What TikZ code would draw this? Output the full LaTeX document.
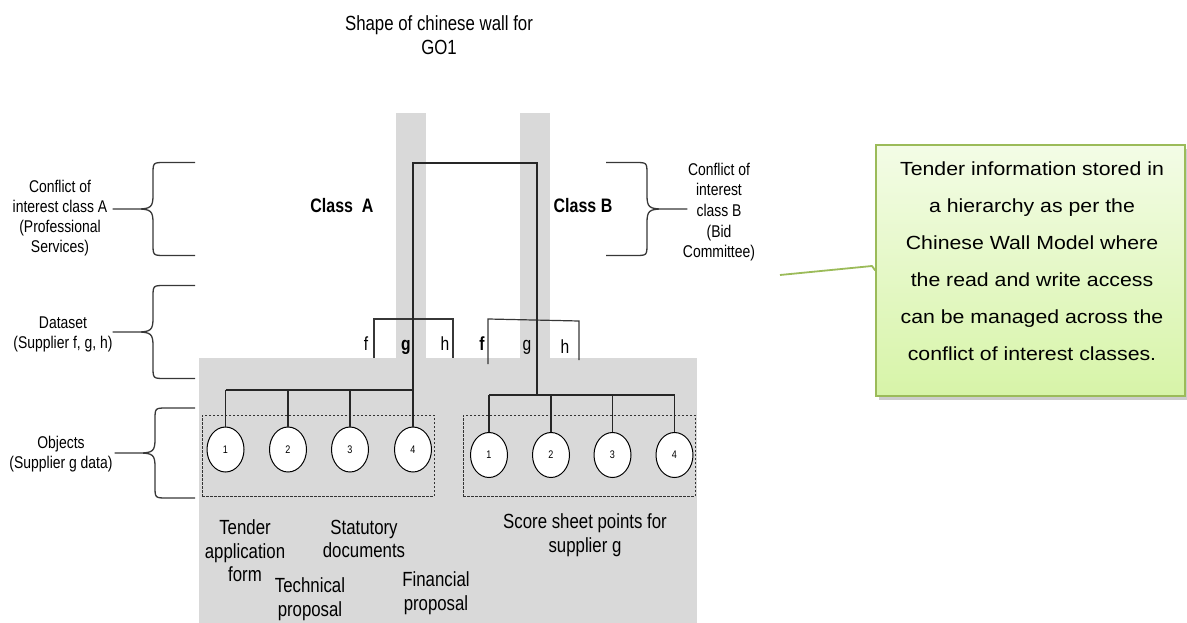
\documentclass[tikz,border=0pt]{standalone}
\usepackage{fontspec}
\setmainfont{Liberation Sans}
\newfontfamily\narrowsf{Liberation Sans}[FakeStretch=0.82]
\newfontfamily\widesf{Liberation Sans}[FakeStretch=1.12]
\usetikzlibrary{shapes.geometric,shadows}

\definecolor{wallgray}{RGB}{217,217,217}
\definecolor{notegreen}{RGB}{155,187,89}
\definecolor{notetop}{RGB}{243,252,230}
\definecolor{notebot}{RGB}{215,244,168}
\definecolor{inkgray}{RGB}{55,55,55}

% curly brace: tip x, tip y, half height, arm length, direction (1 = opens right)
\newcommand{\curlybrace}[5]{%
  \begin{scope}[shift={(#1,#2)},xscale=#5]
    \draw[bracepen] (#4,-#3) -- (52,-#3) .. controls (40,-#3) .. (40,-#3+12)
      -- (40,-14) .. controls (40,-2) and (38,0) .. (24,0) -- (0,0)
      -- (24,0) .. controls (38,0) and (40,2) .. (40,14)
      -- (40,#3-12) .. controls (40,#3) .. (52,#3) -- (#4,#3);
  \end{scope}}

\tikzset{
  bracepen/.style={draw=inkgray, line width=1.3pt, line join=round},
  treeline/.style={draw=black!85, line width=1.2pt},
  setline/.style={draw=inkgray, line width=1.2pt},
  sidelabel/.style={align=center, inner sep=0pt, font=\narrowsf\fontsize{17}{20}\selectfont},
  doclabel/.style={align=center, inner sep=0pt, font=\narrowsf\fontsize{20.5}{23.5}\selectfont},
  classlabel/.style={inner sep=0pt, font=\narrowsf\bfseries\fontsize{19.5}{23}\selectfont},
  setletter/.style={inner sep=0pt, anchor=base, font=\narrowsf\fontsize{19}{22}\selectfont},
  objnode/.style={ellipse, draw=black, line width=1pt, fill=white, minimum width=37,
    minimum height=45, inner sep=0pt, font=\narrowsf\fontsize{11}{13}\selectfont},
  groupbox/.style={draw=black!80, line width=0.9pt, dash pattern=on 2.5pt off 1.5pt,
    inner sep=0pt},
  notebox/.style={draw=notegreen, line width=1.5pt, top color=notetop, bottom color=notebot,
    drop shadow={shadow xshift=3pt, shadow yshift=-4pt, fill=black!40, opacity=0.5}},
  notetext/.style={align=center, inner sep=0pt, font=\widesf\fontsize{19}{37}\selectfont}
}

\begin{document}
\begin{tikzpicture}[x=1pt, y=-1pt]
\useasboundingbox (0,0) rectangle (1187,623);

% the wall: two pillars and the base block
\fill[wallgray] (396,113) rectangle (426,358);
\fill[wallgray] (520,113) rectangle (550,358);
\fill[wallgray] (199,358) rectangle (697,623);

% title
\node[doclabel, font=\narrowsf\fontsize{20.5}{24}\selectfont] (title) at (439,35.5)
  {Shape of chinese wall for\\GO1};

% conflict of interest classes
\node[classlabel] (classA) at (342,206) {Class~~A};
\node[classlabel] (classB) at (583,206) {Class B};

% datasets (suppliers f, g, h)
\draw[setline] (374,358) -- (374,319) -- (453,319) -- (453,358);
\draw[setline] (488,364) -- (488,319) -- (579,321) -- (579,360);
\node[setletter] (fA) at (366,350) {f};
\node[setletter, font=\narrowsf\bfseries\fontsize{19}{22}\selectfont] (gA) at (406,350) {g};
\node[setletter] (hA) at (445,350) {h};
\node[setletter, font=\narrowsf\bfseries\fontsize{19}{22}\selectfont] (fB) at (482,350) {f};
\node[setletter] (gB) at (527,350) {g};
\node[setletter] (hB) at (565,353) {h};

% object groups
\node[groupbox, minimum width=232, minimum height=81] (grpA) at (318,455.5) {};
\node[groupbox, minimum width=232, minimum height=81] (grpB) at (579,455.5) {};

\node[objnode] (a1) at (225.5,449.5) {1};
\node[objnode] (a2) at (288,449.5) {2};
\node[objnode] (a3) at (350,449.5) {3};
\node[objnode] (a4) at (413,449.5) {4};
\node[objnode] (b1) at (489,455) {1};
\node[objnode] (b2) at (551,455) {2};
\node[objnode] (b3) at (612.5,455) {3};
\node[objnode] (b4) at (674.5,455) {4};

% hierarchy connectors
\coordinate (topA) at (413,163);
\coordinate (topB) at (537,163);
\coordinate (busA) at (413,390);
\coordinate (busB) at (537,395);
\draw[treeline] (busA) -- (topA) -- (topB) -- (busB);
\draw[treeline] (a1.north |- busA) -- (a4.north |- busA);
\draw[treeline] (b1.north |- busB) -- (b4.north |- busB);
\foreach \i in {1,...,4} {
  \draw[treeline] (a\i.north |- busA) -- (a\i.north);
  \draw[treeline] (b\i.north |- busB) -- (b\i.north);
}

% document names
\node[doclabel] (tender) at (245,550.7) {Tender\\application\\form};
\node[doclabel] (statutory) at (364,539) {Statutory\\documents};
\node[doclabel] (technical) at (310,599) {Technical\\proposal};
\node[doclabel] (financial) at (436,593) {Financial\\proposal};
\node[doclabel] (score) at (585,535) {Score sheet points for\\supplier g};

% level labels and braces
\node[sidelabel] (levelA) at (60,218.5) {Conflict of\\interest class A\\(Professional\\Services)};
\node[sidelabel] (levelD) at (63,334.5) {Dataset\\(Supplier f, g, h)};
\node[sidelabel] (levelO) at (61,454) {Objects\\(Supplier g data)};
\node[sidelabel, font=\narrowsf\fontsize{17}{20.7}\selectfont] (levelB) at (719,212)
  {Conflict of\\interest\\class B\\(Bid\\Committee)};

\curlybrace{113}{209}{46.5}{82}{1}
\curlybrace{113}{332}{46.5}{82}{1}
\curlybrace{115}{453}{45}{80}{1}
\curlybrace{687}{209}{46.5}{81}{-1}

% explanatory note with its pointer
\node[notebox, minimum width=309, minimum height=251] (note) at (1030.5,270.5) {};
\node[notetext] (notetxt) at (1032,261) {Tender information stored in\\a hierarchy as per the\\
  Chinese Wall Model where\\the read and write access\\can be managed across the\\
  conflict of interest classes.};
\coordinate (tail) at (780,275);
\draw[notegreen, line width=1.8pt, line join=round] (tail) -- (872,266) -- (note.west);

\end{tikzpicture}
\end{document}
